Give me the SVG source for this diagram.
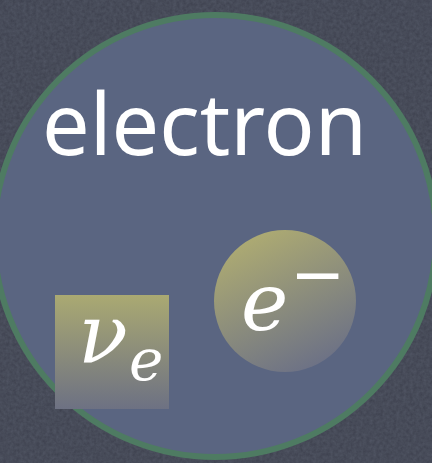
<svg xmlns="http://www.w3.org/2000/svg" width="432" height="463" viewBox="0 0 432 463">
  <defs>
    <filter id="chalk" x="0" y="0" width="100%" height="100%">
      <feTurbulence type="fractalNoise" baseFrequency="0.3" numOctaves="3" seed="4" result="n"/>
      <feColorMatrix in="n" type="matrix" values="0 0 0 0 0.55  0 0 0 0 0.6  0 0 0 0 0.75  0 0 0 0.16 0" result="w"/>
      <feComposite in="w" in2="SourceGraphic" operator="in"/>
    </filter>
    <linearGradient id="ballGrad" x1="0.2" y1="0" x2="0.7" y2="1">
      <stop offset="0" stop-color="#b1ae71"/>
      <stop offset="1" stop-color="#6b7086"/>
    </linearGradient>
    <linearGradient id="boxGrad" x1="0" y1="0" x2="0" y2="1">
      <stop offset="0" stop-color="#aaa972"/>
      <stop offset="1" stop-color="#6d7183"/>
    </linearGradient>
  </defs>
  <style>
    .bg { fill: #3c404d; }
    .outer { fill: #5a6581; stroke: #4e7b62; stroke-width: 6; }
    .label { font-family: "Comic Sans MS", "Noto Sans", "DejaVu Sans", sans-serif; fill: #ffffff; }
    .math { font-family: "DejaVu Serif", serif; font-style: italic; fill: #ffffff; }
    .minus { font-family: "DejaVu Sans", sans-serif; fill: #ffffff; }
  </style>
  <rect class="bg" x="0" y="0" width="432" height="463"/>
  <rect x="0" y="0" width="432" height="463" fill="#3c404d" filter="url(#chalk)"/>
  <g id="electron-field">
    <circle class="outer" cx="215" cy="236" r="221"/>
    <text class="label" x="42" y="155" font-size="86" textLength="325" lengthAdjust="spacingAndGlyphs">electron</text>
  </g>
  <g id="neutrino">
    <rect x="55" y="295" width="114" height="114" fill="url(#boxGrad)"/>
    <text class="math" x="78" y="363" font-size="82">ν</text>
    <text class="math" x="129" y="380" font-size="58">e</text>
  </g>
  <g id="electron-particle">
    <circle cx="285" cy="301" r="71" fill="url(#ballGrad)"/>
    <text class="math" x="241" y="330" font-size="80">e</text>
    <text class="minus" x="290" y="297" font-size="66">−</text>
  </g>
  <g id="connectors"/>
</svg>
